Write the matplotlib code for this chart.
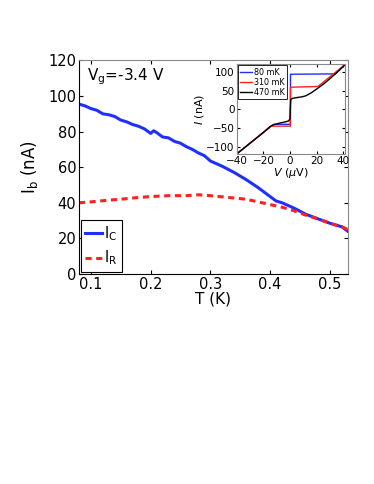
import numpy as np
import matplotlib.pyplot as plt

# main panel: switching currents vs temperature
T_c = [0.080, 0.090, 0.100, 0.110, 0.120, 0.130, 0.140, 0.150, 0.160, 0.170, 0.180,
       0.190, 0.200, 0.205, 0.210, 0.220, 0.230, 0.240, 0.250, 0.260, 0.270, 0.280,
       0.290, 0.300, 0.310, 0.320, 0.340, 0.360, 0.380, 0.400, 0.410, 0.420, 0.440,
       0.460, 0.480, 0.500, 0.510, 0.520, 0.530]
I_c = [95.5, 94.5, 93.0, 92.0, 90.0, 89.5, 88.5, 86.5, 85.5, 84.0, 83.0,
       81.5, 79.0, 80.5, 79.5, 77.0, 76.5, 74.5, 73.5, 71.5, 70.0, 68.0,
       66.5, 63.5, 62.0, 60.5, 57.0, 53.0, 48.5, 43.5, 41.0, 40.0, 37.0,
       33.5, 31.0, 28.5, 27.5, 26.5, 24.0]

T_r = [0.080, 0.100, 0.130, 0.150, 0.180, 0.200, 0.230, 0.260, 0.280, 0.300, 0.330,
       0.360, 0.380, 0.400, 0.420, 0.440, 0.460, 0.480, 0.500, 0.520, 0.530]
I_r = [40.0, 40.5, 41.5, 42.0, 43.0, 43.5, 44.0, 44.0, 44.5, 44.0, 43.0,
       42.0, 40.5, 39.0, 37.5, 35.5, 33.0, 31.0, 28.5, 26.5, 25.0]

# inset: I-V curves
V_80 = [-40, -13, -12, 0.3, 0.4, 34, 42]
I_80 = [-120, -42, -40, -40, 95, 96, 123]
V_310 = [-40, -14, -13, 0.3, 0.4, 21, 42]
I_310 = [-120, -45, -45, -45, 60, 62, 123]
V_470 = [-40, -20, -15, -12, -8, -4, -1, 0.0, 0.3, 0.6, 2, 5, 9, 12, 16, 20, 25, 30, 35, 42]
I_470 = [-120, -62, -46, -41, -37, -34, -31, -25, 5, 27, 30, 32, 34, 37, 45, 55, 68, 83, 99, 123]

fig = plt.figure(figsize=(3.74, 4.84), dpi=100)
ax = fig.add_axes([0.211, 0.434, 0.719, 0.441])

ax.plot(T_c, I_c, color='#1f2fff', linewidth=2.2, label='I$_{\\rm C}$')
ax.plot(T_r, I_r, color='#ff2020', linewidth=2.2, linestyle=(0, (2, 1.5)), label='I$_{\\rm R}$')

ax.set_xlim(0.08, 0.53)
ax.set_ylim(0, 120)
ax.set_xticks([0.1, 0.2, 0.3, 0.4, 0.5])
ax.set_yticks([0, 20, 40, 60, 80, 100, 120])
ax.tick_params(direction='in', labelsize=10.5, length=3, top=True, right=True, pad=2)
ax.set_xlabel('T (K)', fontsize=11, labelpad=0)
ax.set_ylabel('I$_{\\rm b}$ (nA)', fontsize=12, labelpad=6)
for s in ax.spines.values():
    s.set_color('#888888')
ax.spines['left'].set_color('black')
ax.spines['bottom'].set_color('black')

ax.text(0.093, 111, 'V$_{\\rm g}$=-3.4 V', fontsize=11, va='center')

leg = ax.legend(loc='lower left', fontsize=10.5, handlelength=1.1, fancybox=False,
                edgecolor='black', framealpha=1, borderaxespad=0.15, handletextpad=0.2,
                borderpad=0.3, labelspacing=0.4)
leg.get_frame().set_linewidth(0.8)

# inset
ins = fig.add_axes([0.633, 0.682, 0.290, 0.186])
ins.plot(V_80, I_80, color='#1f2fff', linewidth=1.0, label='80 mK')
ins.plot(V_310, I_310, color='#ff2020', linewidth=1.0, label='310 mK')
ins.plot(V_470, I_470, color='black', linewidth=1.0, label='470 mK')
ins.set_xlim(-40, 41.5)
ins.set_ylim(-120, 123)
ins.set_xticks([-40, -20, 0, 20, 40])
ins.set_yticks([-100, -50, 0, 50, 100])
ins.tick_params(direction='in', labelsize=7.5, length=2, top=True, right=True, pad=1.5)
ins.set_xlabel('$V$ ($\\mu$V)', fontsize=8, labelpad=0)
ins.set_ylabel('$I$ (nA)', fontsize=8, labelpad=0)
for s in ins.spines.values():
    s.set_color('#888888')
ileg = ins.legend(loc='upper left', fontsize=5.8, handlelength=1.4, fancybox=False,
                  edgecolor='black', framealpha=1, borderaxespad=0.2, handletextpad=0.3,
                  labelspacing=0.15, borderpad=0.25)
ileg.get_frame().set_linewidth(0.6)

fig.savefig('out.png', dpi=100)
